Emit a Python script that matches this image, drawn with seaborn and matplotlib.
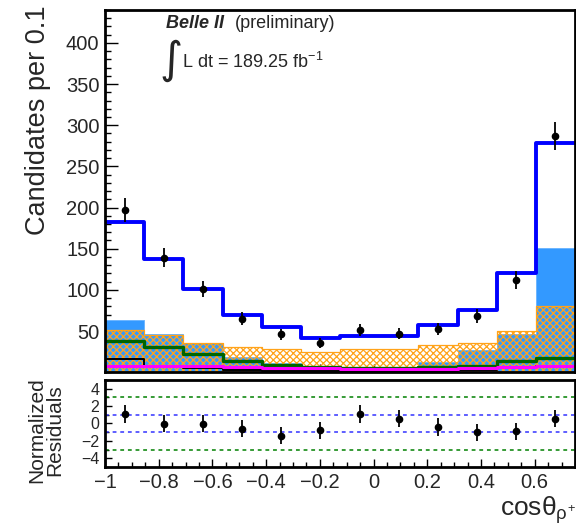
import numpy as np
import pandas as pd
import matplotlib
matplotlib.use("Agg")
import matplotlib.pyplot as plt
from matplotlib.ticker import MultipleLocator, FixedLocator
import seaborn as sns

# 12 equal bins in cos(theta) between -1 and 0.75
bin_edges = np.linspace(-1.0, 0.75, 13)
bin_centers = 0.5 * (bin_edges[:-1] + bin_edges[1:])

data_counts = [197, 139, 101, 65, 46, 36, 51, 47, 53, 68, 112, 287]
fit_total = [183, 138, 101, 70, 55, 41, 44, 44, 57, 76, 121, 278]
azure_bkg = [64, 47, 35, 18, 11, 5, 4, 4, 13, 27, 47, 151]
orange_bkg = [51, 45, 36, 30.5, 27.7, 24.4, 28.5, 28.5, 33, 35.4, 50, 81]
green_bkg = [38, 31, 21.6, 13.4, 9.3, 6, 5, 5, 6, 7, 13.4, 16.7]
black_bkg = [16, 7, 5, 3, 2, 2, 2, 2, 2, 3, 6, 8]
magenta_bkg = [8, 8, 7, 6, 5, 5, 4, 4, 4, 5, 6, 8]
residuals = [1.08, -0.04, -0.04, -0.6, -1.4, -0.8, 1.08, 0.55, -0.4, -1.04, -0.9, 0.55]

x_tick_values = [-1, -0.8, -0.6, -0.4, -0.2, 0, 0.2, 0.4, 0.6]
x_tick_labels = ["\u22121", "\u22120.8", "\u22120.6", "\u22120.4", "\u22120.2", "0", "0.2", "0.4", "0.6"]
y_tick_values = [50, 100, 150, 200, 250, 300, 350, 400]
res_tick_values = [-4, -2, 0, 2, 4]
res_tick_labels = ["\u22124", "\u22122", "0", "2", "4"]

sns.set_style("white")
plt.rcParams["font.family"] = ["Liberation Sans", "DejaVu Sans"]
plt.rcParams["mathtext.fontset"] = "custom"
plt.rcParams["mathtext.rm"] = "Liberation Sans"
plt.rcParams["mathtext.it"] = "Liberation Sans"
plt.rcParams["hatch.linewidth"] = 0.9

fig = plt.figure(figsize=(5.76, 5.25), dpi=100)
ax = fig.add_axes([0.1823, 0.291, 0.8160, 0.690])
axr = fig.add_axes([0.1823, 0.1105, 0.8160, 0.166])


def hist(values, axis, **kws):
    frame = pd.DataFrame({"cos": bin_centers, "w": np.asarray(values, float)})
    sns.histplot(data=frame, x="cos", weights="w", bins=list(bin_edges),
                 element="step", stat="count", ax=axis, **kws)


# background components
hist(azure_bkg, ax, fill=True, color="#3399ff", facecolor="#3399ff",
     edgecolor="#66b3ff", linewidth=0.6, alpha=1)
hist(orange_bkg, ax, fill=True, color="#ffa31a", facecolor="none",
     edgecolor="#ffa31a", hatch="xxxxx", linewidth=0.9, alpha=1)
hist(green_bkg, ax, fill=False, color="#006400", linewidth=2.4)
hist(black_bkg, ax, fill=False, color="black", linewidth=1.4)
hist(magenta_bkg, ax, fill=False, color="#ff00ff", linewidth=2.2)
# total fit
hist(fit_total, ax, fill=False, color="#0000ff", linewidth=2.8)

# data points
ax.errorbar(bin_centers, data_counts, yerr=np.sqrt(data_counts), fmt="o",
            color="black", markersize=4.5, elinewidth=1.3, capsize=0, zorder=10)

ax.set_xlim(-1.0, 0.75)
ax.set_ylim(0, 440)
ax.yaxis.set_major_locator(FixedLocator(y_tick_values))
ax.yaxis.set_minor_locator(MultipleLocator(10))
ax.xaxis.set_major_locator(FixedLocator(x_tick_values))
ax.xaxis.set_minor_locator(MultipleLocator(0.05))
ax.set_xticklabels([])
ax.set_xlabel("")
ax.set_ylabel("")
ax.tick_params(axis="both", which="both", direction="in", labelsize=14.5,
               width=1.0, color="black")
ax.tick_params(axis="y", which="major", length=9, pad=4)
ax.tick_params(axis="y", which="minor", length=4.5)
ax.tick_params(axis="x", which="major", length=6)
ax.tick_params(axis="x", which="minor", length=3.5)
ax.tick_params(left=True, bottom=True, which="both")

# residual panel
axr.axhline(3, color="#008000", linestyle=(0, (2.5, 2.5)), linewidth=1.1)
axr.axhline(-3, color="#008000", linestyle=(0, (2.5, 2.5)), linewidth=1.1)
axr.axhline(1, color="#3333ff", linestyle=(0, (2.5, 2.5)), linewidth=1.1)
axr.axhline(-1, color="#3333ff", linestyle=(0, (2.5, 2.5)), linewidth=1.1)
axr.errorbar(bin_centers, residuals, yerr=np.ones(len(residuals)), fmt="o",
             color="black", markersize=4.5, elinewidth=1.3, capsize=0, zorder=10)
axr.set_xlim(-1.0, 0.75)
axr.set_ylim(-5, 5)
axr.xaxis.set_major_locator(FixedLocator(x_tick_values))
axr.set_xticklabels(x_tick_labels)
axr.xaxis.set_minor_locator(MultipleLocator(0.05))
axr.yaxis.set_major_locator(FixedLocator(res_tick_values))
axr.set_yticklabels(res_tick_labels)
axr.yaxis.set_minor_locator(MultipleLocator(1))
axr.tick_params(axis="both", which="both", direction="in", width=1.0, color="black")
axr.tick_params(axis="x", which="major", length=6, labelsize=14.5, pad=4)
axr.tick_params(axis="x", which="minor", length=3.5)
axr.tick_params(axis="y", which="major", length=5, labelsize=11.5, pad=4)
axr.tick_params(axis="y", which="minor", length=3)
axr.tick_params(left=True, bottom=True, which="both")

for a in (ax, axr):
    for s in a.spines.values():
        s.set_visible(True)
        s.set_linewidth(2.0)
        s.set_color("black")

# labels and annotations
fig.text(38 / 576, 1 - 5 / 525, "Candidates per 0.1", rotation=90,
         ha="center", va="top", fontsize=19.5)
fig.text(46 / 576, 1 - 430 / 525, "Normalized\nResiduals", rotation=90,
         ha="center", va="center", fontsize=15, linespacing=0.95)
fig.text(1.0, 1 - 516 / 525, "cos\u03b8$_{\\rho^{+}}$", ha="right",
         va="baseline", fontsize=19)

fig.text(166 / 576, 1 - 23 / 525, "Belle II", fontsize=13, fontweight="bold",
         fontstyle="italic", va="center", ha="left")
fig.text(235 / 576, 1 - 23 / 525, "(preliminary)", fontsize=13,
         va="center", ha="left")
fig.text(171 / 576, 1 - 60 / 525, "\u222b", fontsize=32, va="center",
         ha="center", family="DejaVu Sans")
fig.text(182 / 576, 1 - 62 / 525, "L dt = 189.25 fb$^{-1}$", fontsize=13,
         va="center", ha="left")

fig.savefig("out.png", dpi=100)
